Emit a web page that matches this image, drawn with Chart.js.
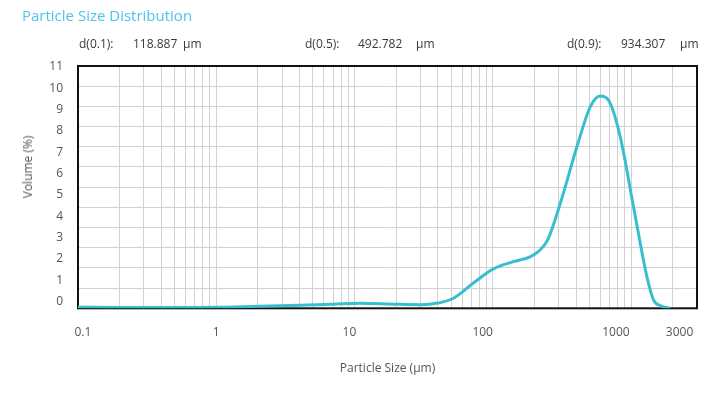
<!DOCTYPE html>
<html>
<head>
<meta charset="utf-8">
<script src="https://cdn.jsdelivr.net/npm/chart.js@4.4.1/dist/chart.umd.min.js"></script>
<style>
  html, body { margin: 0; padding: 0; background: #fff; }
  #wrap { position: relative; width: 725px; height: 393px; font-family: "Open Sans", sans-serif; }
  #chart { position: absolute; left: 0; top: 0; }
  .txt { position: absolute; white-space: nowrap; color: #3a3a3a; font-size: 12px; line-height: 14px; }
  #title { left: 22px; top: 5px; font-size: 15px; line-height: 20px; color: #4fc3ea; }
  #ytitle { left: 28px; top: 167px; color: #555; transform: translate(-50%, -50%) rotate(-90deg); }
</style>
</head>
<body>
<div id="wrap">
  <canvas id="chart" width="725" height="393"></canvas>
  <div id="title" class="txt">Particle Size Distribution</div>
  <div id="d-row"></div>
  <div id="ytitle" class="txt">Volume (%)</div>
</div>
<script>
// Granulométrie : volume (%) selon la taille des particules (µm)
const sizes   = [0.1, 0.2, 0.5, 1, 2, 4, 7, 11, 20, 30, 40, 52, 72, 101, 141, 186, 220, 250, 308, 406, 507, 599, 687, 835, 1042, 1303, 1456, 1650, 1923];
const volumes = [0.05, 0.04, 0.04, 0.05, 0.1, 0.15, 0.2, 0.25, 0.2, 0.18, 0.26, 0.5, 1.24, 1.95, 2.31, 2.55, 2.89, 3.4, 5.2, 8.0, 9.98, 10.51, 10.31, 8.5, 5.03, 1.56, 0.41, 0.12, 0];

const xTickLabels = [0.1, 1, 10, 100, 1000, 3000];
const yTickLabels = [0, 1, 2, 3, 4, 5, 6, 7, 8, 9, 10, 11];

const dLabels = ["d(0.1):", "d(0.5):", "d(0.9):"];
const dValues = ["118.887", "492.782", "934.307"];
const dUnit = "µm";

const LINE = "#38bfce";
const GRID = "#d2d2d2";
const TICK = "#555";

// ligne d(0.x) en haut
const dPos = [[79, 133, 183], [305, 358, 416], [567, 621, 680]];
document.getElementById("d-row").innerHTML = dLabels.map((l, i) => `
  <div class="txt" style="left:${dPos[i][0]}px;top:37px">${l}</div>
  <div class="txt" style="left:${dPos[i][1]}px;top:37px">${dValues[i]}</div>
  <div class="txt" style="left:${dPos[i][2]}px;top:37px">${dUnit}</div>`).join("");

// toutes les lignes de grille 1..9 × 10^k entre 0.1 et 3000
const gridVals = [];
for (let e = -1; e <= 3; e++) for (let m = 1; m <= 9; m++) {
  const v = +(m * Math.pow(10, e)).toPrecision(3);
  if (v >= 0.1 && v <= 3000) gridVals.push(v);
}

const frame = {
  id: "frame",
  beforeDatasetsDraw(chart) {
    const a = chart.chartArea, ctx = chart.ctx;
    ctx.save();
    ctx.strokeStyle = "#111";
    ctx.lineWidth = 2;
    ctx.strokeRect(a.left, a.top, a.right - a.left, a.bottom - a.top);
    ctx.restore();
  }
};

new Chart(document.getElementById("chart"), {
  type: "line",
  data: {
    datasets: [{
      data: sizes.map((s, i) => ({ x: s, y: volumes[i] })),
      borderColor: LINE,
      borderWidth: 3,
      pointRadius: 0,
      fill: false,
      cubicInterpolationMode: "monotone",
      xAxisID: "x",
      yAxisID: "y",
    }],
  },
  options: {
    responsive: false,
    animation: false,
    layout: { padding: { top: 66, right: 28, left: 0, bottom: 0 } },
    plugins: { legend: { display: false }, tooltip: { enabled: false } },
    scales: {
      x: {
        type: "logarithmic", min: 0.1, max: 3000, position: "bottom",
        grid: { color: GRID, drawTicks: false },
        border: { display: false },
        ticks: { display: false },
        afterBuildTicks: s => { s.ticks = gridVals.map(v => ({ value: v })); },
        afterFit: s => { s.height = 0; },
      },
      xLab: {
        type: "logarithmic", min: 0.0919, max: 4057, position: "bottom",
        grid: { display: false, drawTicks: false },
        border: { display: false },
        ticks: {
          color: TICK, padding: 17, maxRotation: 0, autoSkip: false,
          font: { family: "Open Sans", size: 12 },
          callback: v => String(v),
        },
        afterBuildTicks: s => { s.ticks = xTickLabels.map(v => ({ value: v })); },
        afterFit: s => { s.height = 84.7; },
        title: {
          display: true, text: "Particle Size (µm)", color: TICK,
          font: { family: "Open Sans", size: 12 }, padding: { top: 0, bottom: 17 },
        },
      },
      y: {
        type: "linear", min: 0, max: 12, position: "left",
        grid: { color: GRID, drawTicks: false },
        border: { display: false },
        ticks: { display: false, stepSize: 1 },
        afterFit: s => { s.width = 0; },
      },
      yLab: {
        type: "linear", min: -0.31, max: 11.05, position: "left",
        grid: { display: false, drawTicks: false },
        border: { display: false },
        ticks: { color: TICK, padding: 15, font: { family: "Open Sans", size: 12 } },
        afterBuildTicks: s => { s.ticks = yTickLabels.map(v => ({ value: v })); },
        afterFit: s => { s.width = 78; },
      },
    },
  },
  plugins: [frame],
});
</script>
</body>
</html>
